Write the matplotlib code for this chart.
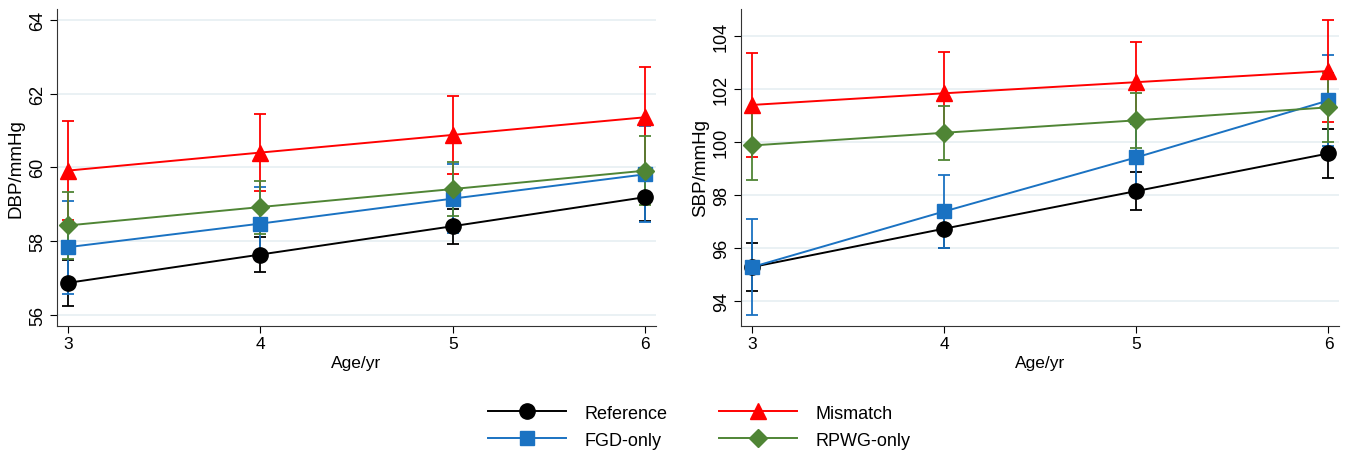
import matplotlib.pyplot as plt
from matplotlib.lines import Line2D

plt.rcParams['font.family'] = ['Liberation Sans', 'DejaVu Sans']

ages = [3, 4, 5, 6]
groups = ["Reference", "FGD-only", "Mismatch", "RPWG-only"]

# DBP means and half-width of CI
dbp_ref = [56.86, 57.63, 58.40, 59.19]
dbp_ref_err = [0.62, 0.48, 0.48, 0.65]
dbp_fgd = [57.83, 58.47, 59.15, 59.81]
dbp_fgd_err = [1.26, 1.00, 0.93, 1.30]
dbp_mis = [59.91, 60.40, 60.88, 61.36]
dbp_mis_err = [1.35, 1.05, 1.05, 1.37]
dbp_rpwg = [58.42, 58.92, 59.41, 59.91]
dbp_rpwg_err = [0.92, 0.72, 0.74, 0.94]

# SBP means and half-width of CI
sbp_ref = [95.29, 96.74, 98.16, 99.58]
sbp_ref_err = [0.91, 0.73, 0.72, 0.92]
sbp_fgd = [95.29, 97.39, 99.43, 101.58]
sbp_fgd_err = [1.80, 1.39, 1.25, 1.72]
sbp_mis = [101.41, 101.85, 102.27, 102.69]
sbp_mis_err = [1.97, 1.55, 1.50, 1.93]
sbp_rpwg = [99.88, 100.36, 100.83, 101.32]
sbp_rpwg_err = [1.32, 1.02, 1.04, 1.30]

colors = {"Reference": "black", "FGD-only": "#1a72c2",
          "Mismatch": "#ff0000", "RPWG-only": "#4f8535"}
markers = {"Reference": ("o", 11), "FGD-only": ("s", 10),
           "Mismatch": ("^", 11), "RPWG-only": ("D", 9.5)}
grid_col = "#e6eff2"

fig = plt.figure(figsize=(13.5, 4.56), dpi=100)
ax1 = fig.add_axes([0.0422, 0.283, 0.4437, 0.695])
ax2 = fig.add_axes([0.5489, 0.283, 0.443, 0.695])


def panel(ax, data, ylabel, yticks, ylim):
    for g in groups:
        vals, errs = data[g]
        m, ms = markers[g]
        ax.errorbar(ages, vals, yerr=errs, color=colors[g], marker=m,
                    markersize=ms, lw=1.4, elinewidth=1.3, capsize=4,
                    capthick=1.3, zorder=3)
    ax.set_xlim(2.944, 6.055)
    ax.set_ylim(*ylim)
    ax.set_xticks(ages)
    ax.set_yticks(yticks)
    for t in yticks:
        ax.axhline(t, color=grid_col, lw=1.2, zorder=1)
    ax.set_ylabel(ylabel, fontsize=13.5, labelpad=3)
    ax.set_xlabel("Age/yr", fontsize=12.5, labelpad=3)
    ax.tick_params(axis='x', labelsize=12.5, direction='out', length=5, pad=2)
    ax.tick_params(axis='y', labelsize=13, direction='out', length=5, pad=3)
    for lbl in ax.get_yticklabels():
        lbl.set_rotation(90)
        lbl.set_va('center')
    ax.spines['top'].set_visible(False)
    ax.spines['right'].set_visible(False)
    ax.spines['left'].set_color('#333333')
    ax.spines['bottom'].set_color('#333333')


panel(ax1, {"Reference": (dbp_ref, dbp_ref_err), "FGD-only": (dbp_fgd, dbp_fgd_err),
            "Mismatch": (dbp_mis, dbp_mis_err), "RPWG-only": (dbp_rpwg, dbp_rpwg_err)},
      "DBP/mmHg", [56, 58, 60, 62, 64], (55.69, 64.3))
panel(ax2, {"Reference": (sbp_ref, sbp_ref_err), "FGD-only": (sbp_fgd, sbp_fgd_err),
            "Mismatch": (sbp_mis, sbp_mis_err), "RPWG-only": (sbp_rpwg, sbp_rpwg_err)},
      "SBP/mmHg", [94, 96, 98, 100, 102, 104], (93.07, 105.03))

handles = [Line2D([], [], color=colors[g], marker=markers[g][0],
                  markersize=markers[g][1], lw=1.4) for g in groups]
fig.legend(handles, groups, loc='center', bbox_to_anchor=(0.518, 0.062), ncol=2,
           frameon=False, fontsize=13, handlelength=4.3, columnspacing=2.9,
           labelspacing=0.55, handletextpad=1.0)

fig.savefig("out.png", dpi=100)
